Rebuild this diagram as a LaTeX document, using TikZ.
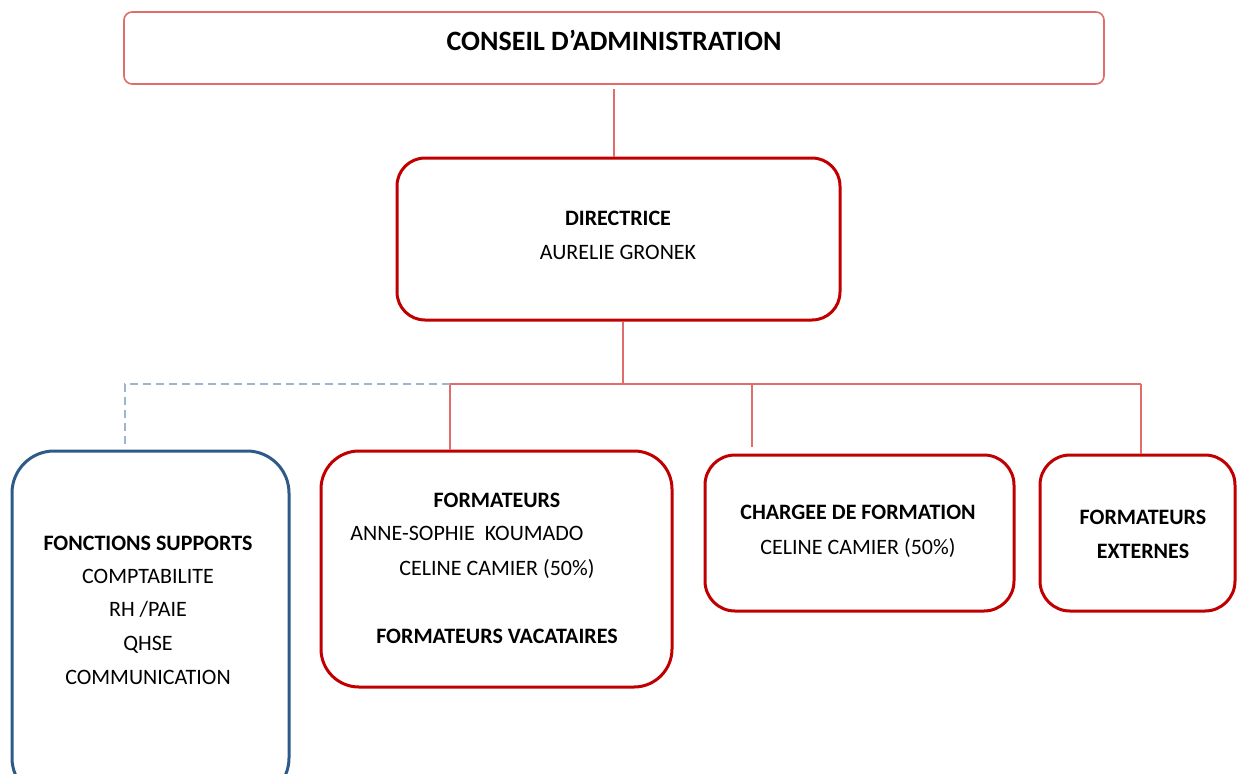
\documentclass[tikz,border=0pt]{standalone}
\usepackage{fontspec}
\setmainfont{Carlito}
\usetikzlibrary{fit}
\definecolor{boxred}{HTML}{C00000}
\definecolor{linered}{HTML}{E06C6C}
\definecolor{supblue}{HTML}{2E5A87}
\definecolor{dashblue}{HTML}{9DB5D3}
\begin{document}
\begin{tikzpicture}[x=0.5pt,y=-0.5pt,
	txt/.style={anchor=base, font=\fontsize{11}{13}\selectfont},
	hd/.style={anchor=base, font=\fontsize{11}{13}\selectfont\bfseries},
	redbox/.style={draw=boxred, line width=1.5pt, inner sep=0pt},
	link/.style={draw=linered, line width=0.8pt}]
	\useasboundingbox (0,0) rectangle (1238,773);
	\clip (0,0) rectangle (1238,773);

	% boxes
	\node[draw=linered, line width=0.8pt, rounded corners=4pt, inner sep=0pt, fit={(124,12) (1104,84)}] (ca) {};
	\node[redbox, rounded corners=14pt, fit={(397,158) (840,320)}] (dir) {};
	\node[draw=supblue, line width=1.5pt, inner sep=0pt, rounded corners=21pt, fit={(12,451) (289,800)}] (sup) {};
	\node[redbox, rounded corners=19pt, fit={(321,451) (672,687)}] (form) {};
	\node[redbox, rounded corners=15pt, fit={(705,455) (1014,611)}] (charg) {};
	\node[redbox, rounded corners=15pt, fit={(1040,455) (1235,611)}] (ext) {};

	% texts
	\node[anchor=base, font=\fontsize{14}{17}\selectfont\bfseries] (catxt) at (614,50) {CONSEIL D’ADMINISTRATION};
	\node[hd] (dirtxt) at (618,225.5) {DIRECTRICE};
	\node[txt] (dirnom) at (618,259.5) {AURELIE GRONEK};

	\node[hd] (suptxt) at (148,550.5) {FONCTIONS SUPPORTS};
	\node[txt] (sup1) at (148,583.5) {COMPTABILITE};
	\node[txt] (sup2) at (148,616.5) {RH /PAIE};
	\node[txt] (sup3) at (148,650.5) {QHSE};
	\node[txt] (sup4) at (148,684.5) {COMMUNICATION};

	\node[hd] (formtxt) at (497,507.5) {FORMATEURS};
	\node[txt] (form1) at (467,540.5) {ANNE-SOPHIE\ \ KOUMADO};
	\node[txt] (form2) at (497,575.5) {CELINE CAMIER (50\%)};
	\node[hd] (form3) at (497,643.5) {FORMATEURS VACATAIRES};

	\node[hd] (chargtxt) at (858,519.5) {CHARGEE DE FORMATION};
	\node[txt] (charg1) at (858,554.5) {CELINE CAMIER (50\%)};

	\node[hd] (exttxt) at (1143,524.5) {FORMATEURS};
	\node[hd] (ext1) at (1143,558.5) {EXTERNES};

	% links
	\coordinate (fork) at (623,384);
	\coordinate (jf) at (450,384);
	\coordinate (jc) at (752,384);
	\coordinate (je) at (1141,384);
	\coordinate (js) at (125,384);
	\coordinate (jcend) at (752,447);
	\coordinate (jsend) at (125,447);

	\draw[link, shorten <=2pt] (ca.south) -- (ca.south |- dir.north);
	\draw[link] (fork |- dir.south) -- (fork);
	\draw[link] (jf) -- (je);
	\draw[link] (jf) -- (jf |- form.north);
	\draw[link] (jc) -- (jcend);
	\draw[link] (je) -- (je |- ext.north);
	\draw[draw=dashblue, line width=0.8pt, dash pattern=on 4pt off 2.5pt] (jf) -- (js) -- (jsend);
\end{tikzpicture}
\end{document}
